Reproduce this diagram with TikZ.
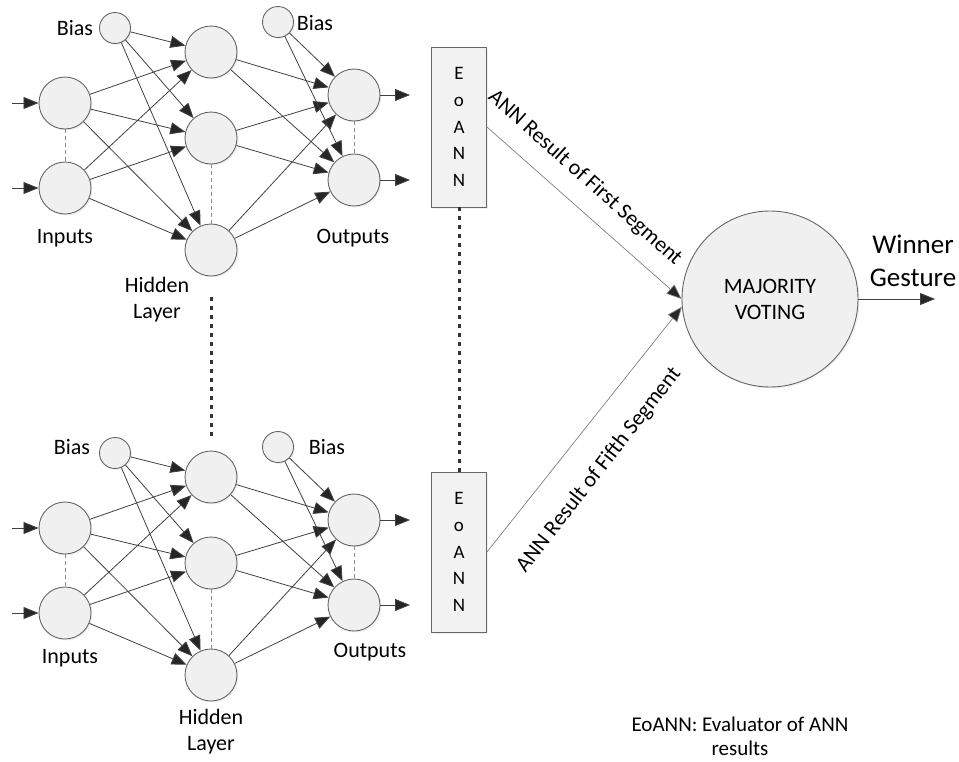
\documentclass[tikz,border=0pt]{standalone}
\usepackage{fontspec}
\setmainfont{Carlito}
\usetikzlibrary{arrows.meta,shadows}

\tikzset{
	neuron/.style={circle, draw=black!60, fill=black!6, line width=0.9pt, minimum size=52pt, inner sep=0pt,
		drop shadow={opacity=0.12, shadow xshift=1.5pt, shadow yshift=-1.5pt}},
	biasnode/.style={neuron, minimum size=31pt},
	conn/.style={draw=black!75, line width=0.8pt, -{Triangle[length=15pt,width=12pt,fill=black!85]}},
	result/.style={draw=black!50, line width=0.7pt, -{Triangle[length=15pt,width=12pt,fill=black!85]}},
	gap/.style={draw=black!45, line width=0.8pt, dash pattern=on 4pt off 3pt},
	dots/.style={draw=black!80, line width=3pt, dash pattern=on 4pt off 5pt},
	lbl/.style={font=\fontsize{22}{26}\selectfont, align=center, inner sep=0pt},
	evalbox/.style={draw=black!60, fill=black!5, line width=0.9pt, minimum width=55pt, minimum height=160pt,
		inner sep=0pt, align=center, font=\fontsize{19}{26.75}\selectfont,
		drop shadow={opacity=0.12, shadow xshift=1.5pt, shadow yshift=-1.5pt}}
}

\begin{document}
\begin{tikzpicture}[x=1pt, y=-1pt]
	\useasboundingbox (0,0) rectangle (959,761);
	% the two networks
	\foreach \net/\dy in {t/0, b/425} {
		\node[neuron] (\net i1) at (65,{103+\dy}) {};
		\node[neuron] (\net i2) at (65,{188+\dy}) {};
		\node[biasnode] (\net b1) at (115,{28+\dy}) {};
		\node[neuron] (\net h1) at (211,{52+\dy}) {};
		\node[neuron] (\net h2) at (211,{138+\dy}) {};
		\node[neuron] (\net h3) at (211,{250+\dy}) {};
		\node[biasnode] (\net b2) at (278,{22+\dy}) {};
		\node[neuron] (\net o1) at (354,{95+\dy}) {};
		\node[neuron] (\net o2) at (354,{180+\dy}) {};
		\coordinate (\net a1) at (12,{103+\dy});
		\coordinate (\net a2) at (12,{188+\dy});
		\coordinate (\net z1) at (410,{95+\dy});
		\coordinate (\net z2) at (410,{180+\dy});
		\draw[conn] (\net a1) -- (\net i1);
		\draw[conn] (\net a2) -- (\net i2);
		\draw[conn] (\net o1) -- (\net z1);
		\draw[conn] (\net o2) -- (\net z2);
		\foreach \s in {i1,i2,b1}
			\foreach \h in {h1,h2,h3}
				\draw[conn] (\net\s) -- (\net\h);
		\foreach \s in {h1,h2,h3,b2}
			\foreach \o in {o1,o2}
				\draw[conn] (\net\s) -- (\net\o);
		\draw[gap] (\net i1) -- (\net i2);
		\draw[gap] (\net h2) -- (\net h3);
		\draw[gap] (\net o1) -- (\net o2);
	}
	% labels of the networks
	\node[lbl] (tbl) at (75,28) {Bias};
	\node[lbl] (tbr) at (315,23) {Bias};
	\node[lbl] (tin) at (65,238) {Inputs};
	\node[lbl] (tout) at (353,238) {Outputs};
	\node[lbl] (thid) at (157,300) {Hidden\\Layer};
	\node[lbl] (bbl) at (72,447) {Bias};
	\node[lbl] (bbr) at (327,447) {Bias};
	\node[lbl] (bin) at (70,658) {Inputs};
	\node[lbl] (bout) at (370,652) {Outputs};
	\node[lbl] (bhid) at (211,732) {Hidden\\Layer};
	\coordinate (hd1) at (211,297);
	\coordinate (hd2) at (211,440);
	\draw[dots] (hd1) -- (hd2);
	% evaluators and voting
	\node[evalbox] (te) at (459,127) {E\\o\\A\\N\\N};
	\node[evalbox] (be) at (459,552) {E\\o\\A\\N\\N};
	\draw[dots] (te.south) -- (be.north);
	\node[neuron, minimum size=176pt, lbl] (vote) at (770,299) {MAJORITY\\VOTING};
	\draw[result] (te.east) -- (vote.west);
	\draw[result] (be.east) -- (vote.185);
	\node[lbl, rotate=-41.7] (tres) at (585,178) {ANN Result of First Segment};
	\node[lbl, rotate=52] (bres) at (599,470) {ANN Result of Fifth Segment};
	\coordinate (win) at (935,299);
	\draw[conn] (vote.east) -- (win);
	\node[lbl, font=\fontsize{27}{33}\selectfont] (wtxt) at (913,261) {Winner\\Gesture};
	\node[lbl, font=\fontsize{21}{24}\selectfont] (legend) at (740,736) {EoANN: Evaluator of ANN\\results};
\end{tikzpicture}
\end{document}
